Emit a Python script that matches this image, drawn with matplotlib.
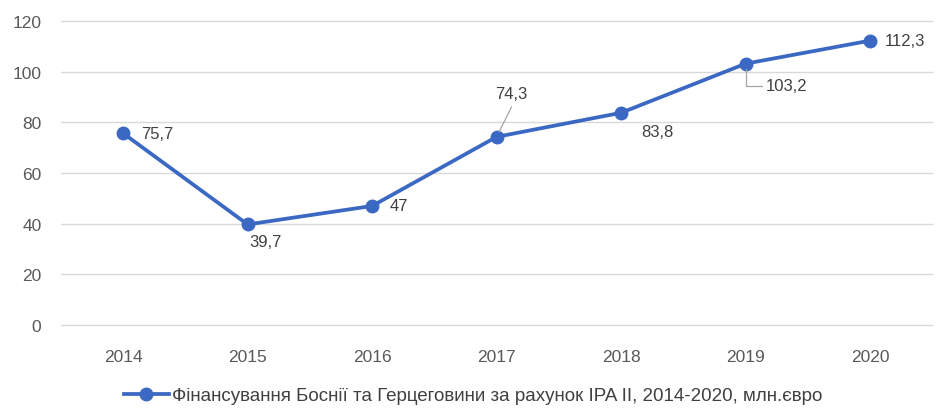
import matplotlib
matplotlib.use('Agg')
import matplotlib.pyplot as plt

years = ['2014', '2015', '2016', '2017', '2018', '2019', '2020']
values = [75.7, 39.7, 47.0, 74.3, 83.8, 103.2, 112.3]
labels = ['75,7', '39,7', '47', '74,3', '83,8', '103,2', '112,3']
series_name = 'Фінансування Боснії та Герцеговини за рахунок IPA II, 2014-2020, млн.євро'

# label offsets in pixels (dx, dy, ha)
offsets = [(18, 0, 'left'), (2, -17, 'left'), (18, 0, 'left'), (15, 43, 'center'),
           (20, -19, 'left'), (20, -22, 'left'), (15, 0, 'left')]

plt.rcParams['font.family'] = ['Liberation Sans', 'DejaVu Sans']

blue = '#3b68c2'
grey = '#595959'

fig = plt.figure(figsize=(9.37, 4.10), dpi=100)
ax = fig.add_axes([0.065, 0.205, 0.93, 0.741])

x = list(range(len(years)))
line, = ax.plot(x, values, color=blue, lw=2.7, marker='o', markersize=9,
                label=series_name, zorder=3)

for i, (v, lab, (dx, dy, ha)) in enumerate(zip(values, labels, offsets)):
    ax.annotate(lab, (i, v), xytext=(dx, dy), textcoords='offset pixels',
                ha=ha, va='center', fontsize=12, color='#404040')

# leader lines for 2017 and 2019 labels
ax.annotate('', (3, values[3]), xytext=(15, 30), textcoords='offset pixels',
            arrowprops=dict(arrowstyle='-', color='#a6a6a6', lw=0.9,
                            shrinkA=0, shrinkB=4))
ax.annotate('', (5, values[5]), xytext=(16, -22), textcoords='offset pixels',
            arrowprops=dict(arrowstyle='-', color='#a6a6a6', lw=0.9,
                            connectionstyle='angle,angleA=0,angleB=90,rad=0',
                            shrinkA=0, shrinkB=4))

ax.set_xlim(-0.5, len(years) - 0.5)
ax.set_ylim(0, 120)
ax.set_yticks(range(0, 121, 20))
ax.set_xticks(x)
ax.set_xticklabels(years)
ax.yaxis.grid(True, color='#d9d9d9', lw=1, clip_on=False)
ax.set_axisbelow(True)
for s in ax.spines.values():
    s.set_visible(False)
ax.tick_params(length=0, labelsize=12.5, colors=grey)
ax.tick_params(axis='x', pad=17)
ax.tick_params(axis='y', pad=14)

fig.legend(handles=[line], loc='lower center', bbox_to_anchor=(0.505, -0.03),
           frameon=False, fontsize=13.5, handlelength=2.4, handletextpad=0.2,
           labelcolor='#404040')

fig.savefig('out.png', dpi=100, facecolor='white')
